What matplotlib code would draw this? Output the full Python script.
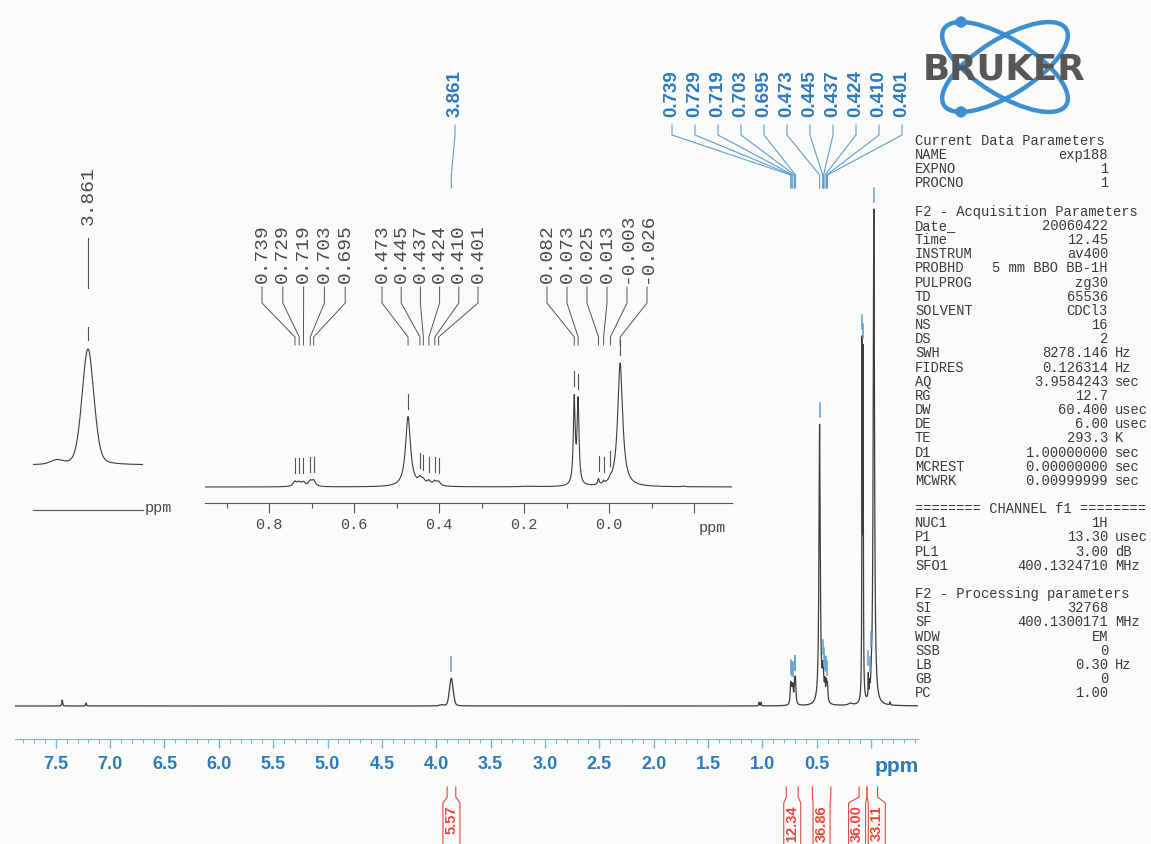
import numpy as np
import matplotlib
matplotlib.use("Agg")
import matplotlib.pyplot as plt
from matplotlib.patches import Ellipse, Circle
from matplotlib.ticker import MultipleLocator, FixedLocator

W, H = 1151, 844
plt.rcParams['font.family'] = ['Liberation Sans', 'DejaVu Sans']

# ---------------- data ----------------
peak_ppm = [7.44, 7.22, 3.95, 3.861, 1.030, 1.012,
            0.739, 0.729, 0.719, 0.703, 0.695,
            0.473, 0.445, 0.437, 0.424, 0.410, 0.401,
            0.19,
            0.082, 0.073, 0.025, 0.013, -0.003, -0.026, -0.175]
peak_height = [0.012, 0.006, 0.002, 0.056, 0.007, 0.007,
               0.040, 0.030, 0.032, 0.040, 0.045,
               0.565, 0.045, 0.035, 0.035, 0.035, 0.032,
               0.004,
               0.69, 0.67, 0.045, 0.02, 0.02, 1.0, 0.006]
peak_hwhm = [0.004, 0.004, 0.02, 0.02, 0.003, 0.003,
             0.005, 0.005, 0.005, 0.005, 0.005,
             0.007, 0.005, 0.005, 0.005, 0.005, 0.005,
             0.02,
             0.0026, 0.0026, 0.002, 0.002, 0.003, 0.007, 0.003]
peak_lorentz_fraction = [1, 1, 0.3, 0.25, 1, 1,
                         1, 1, 1, 1, 1,
                         1, 1, 1, 1, 1, 1,
                         1,
                         1, 1, 1, 1, 1, 1, 1]

top_labels = ["0.739", "0.729", "0.719", "0.703", "0.695",
              "0.473", "0.445", "0.437", "0.424", "0.410", "0.401"]
main_single_label = "3.861"
inset_group_a = ["0.739", "0.729", "0.719", "0.703", "0.695"]
inset_group_b = ["0.473", "0.445", "0.437", "0.424", "0.410", "0.401"]
inset_group_c = ["0.082", "0.073", "0.025", "0.013", "-0.003", "-0.026"]
inset1_label = "3.861"

axis_tick_labels = ["7.5", "7.0", "6.5", "6.0", "5.5", "5.0", "4.5", "4.0",
                    "3.5", "3.0", "2.5", "2.0", "1.5", "1.0", "0.5"]
inset_tick_labels = ["0.8", "0.6", "0.4", "0.2", "0.0"]

integral_values = ["5.57", "12.34", "36.86", "36.00", "33.11"]
integral_start = [3.90, 0.78, 0.54, 0.11, 0.037]
integral_end = [3.82, 0.67, 0.37, 0.037, -0.06]

params = [
    ("Current Data Parameters", "", ""),
    ("NAME", "exp188", ""),
    ("EXPNO", "1", ""),
    ("PROCNO", "1", ""),
    None,
    ("F2 - Acquisition Parameters", "", ""),
    ("Date_", "20060422", ""),
    ("Time", "12.45", ""),
    ("INSTRUM", "av400", ""),
    ("PROBHD", "5 mm BBO BB-1H", ""),
    ("PULPROG", "zg30", ""),
    ("TD", "65536", ""),
    ("SOLVENT", "CDCl3", ""),
    ("NS", "16", ""),
    ("DS", "2", ""),
    ("SWH", "8278.146", "Hz"),
    ("FIDRES", "0.126314", "Hz"),
    ("AQ", "3.9584243", "sec"),
    ("RG", "12.7", ""),
    ("DW", "60.400", "usec"),
    ("DE", "6.00", "usec"),
    ("TE", "293.3", "K"),
    ("D1", "1.00000000", "sec"),
    ("MCREST", "0.00000000", "sec"),
    ("MCWRK", "0.00999999", "sec"),
    None,
    ("======== CHANNEL f1 ========", "", ""),
    ("NUC1", "1H", ""),
    ("P1", "13.30", "usec"),
    ("PL1", "3.00", "dB"),
    ("SFO1", "400.1324710", "MHz"),
    None,
    ("F2 - Processing parameters", "", ""),
    ("SI", "32768", ""),
    ("SF", "400.1300171", "MHz"),
    ("WDW", "EM", ""),
    ("SSB", "0", ""),
    ("LB", "0.30", "Hz"),
    ("GB", "0", ""),
    ("PC", "1.00", ""),
]


def spectrum(x):
    x = np.asarray(x, dtype=float)
    y = np.zeros_like(x)
    for c, h, g, eta in zip(peak_ppm, peak_height, peak_hwhm, peak_lorentz_fraction):
        u = (x - c) / g
        y += h * (eta / (1.0 + u ** 2) + (1 - eta) * np.exp(-np.log(2) * u ** 2))
    return y


# ---------------- styles ----------------
BLUE_TXT = "#2c7bbd"
BLUE_LINE = "#5c9fd4"
AXIS_BLUE = "#7db4dc"
GREY_TXT = "#4a4a4a"
GREY_LINE = "#555555"
SPEC = "#3c3c3c"
RED = "#e2493f"
MONO = "Liberation Mono"

fig = plt.figure(figsize=(W / 100, H / 100), dpi=100)
fig.patch.set_facecolor("#fbfbf9")


def add_ax_px(left, right, bottom, top, z):
    a = fig.add_axes([left / W, 1 - bottom / H, (right - left) / W, (bottom - top) / H], zorder=z)
    a.patch.set_alpha(0)
    for s in ["top", "left", "right"]:
        a.spines[s].set_visible(False)
    a.set_yticks([])
    return a


# ---------------- main spectrum ----------------
ax = add_ax_px(15, 918, 739, 150, 1)
ax.set_xlim(7.875, -0.432)
ax.set_ylim(-33 / 496, 556 / 496)
xm = np.linspace(-0.432, 7.875, 90000)
ax.plot(xm, spectrum(xm), color=SPEC, lw=0.9)
ax.spines["bottom"].set_color(AXIS_BLUE)
ax.set_xticks([float(t) for t in axis_tick_labels] + [0.0])
ax.set_xticklabels(axis_tick_labels + [""])
ax.xaxis.set_minor_locator(MultipleLocator(0.1))
ax.tick_params(axis="x", which="major", direction="out", length=6.5, width=1,
               color=AXIS_BLUE, pad=6, labelsize=13, labelcolor=BLUE_TXT)
ax.tick_params(axis="x", which="minor", direction="out", length=3, width=0.8, color=AXIS_BLUE)
for lbl in ax.get_xticklabels():
    lbl.set_fontweight("bold")

# ---------------- inset: 0.95 .. -0.29 ppm ----------------
ax2 = add_ax_px(205, 732, 503, 330, 2)
ax2.set_xlim(0.9506, -0.289)
ax2.set_ylim(-16 / 124, 157 / 124)
x2 = np.linspace(-0.289, 0.9506, 30000)
ax2.plot(x2, spectrum(x2), color=SPEC, lw=0.8)
ax2.spines["bottom"].set_color(GREY_LINE)
ax2.spines["bottom"].set_linewidth(0.8)
ax2.xaxis.set_major_locator(FixedLocator([float(t) for t in inset_tick_labels] + [-0.2]))
ax2.set_xticklabels(inset_tick_labels + [""])
ax2.xaxis.set_minor_locator(FixedLocator([0.9, 0.7, 0.5, 0.3, 0.1, -0.1]))
ax2.tick_params(axis="x", which="major", direction="out", length=7, width=0.8,
                color=GREY_LINE, pad=4, labelsize=11, labelcolor=GREY_TXT)
ax2.tick_params(axis="x", which="minor", direction="out", length=3.5, width=0.8, color=GREY_LINE)
for lbl in ax2.get_xticklabels():
    lbl.set_family(MONO)

# ---------------- inset: 3.861 peak ----------------
unit1 = 116 / 0.056
ax1 = add_ax_px(33, 143, 510, 300, 2)
ax1.set_xlim(4.018, 3.704)
ax1.set_ylim(-45 / unit1, 165 / unit1)
x1 = np.linspace(3.704, 4.018, 4000)
ax1.plot(x1, spectrum(x1), color=SPEC, lw=0.8)
ax1.spines["bottom"].set_color(GREY_LINE)
ax1.spines["bottom"].set_linewidth(0.8)
ax1.set_xticks([])

# ---------------- overlay in pixel coordinates ----------------
ov = fig.add_axes([0, 0, 1, 1], zorder=10)
ov.set_xlim(0, W)
ov.set_ylim(H, 0)
ov.axis("off")
ov.patch.set_alpha(0)


def to_px(a, xv, yv=0.0):
    d = a.transData.transform((xv, yv))
    return d[0], H - d[1]


# peak markers on main spectrum
for s in top_labels + inset_group_c + [main_single_label]:
    p = float(s)
    px, py = to_px(ax, p, float(spectrum(p)))
    ov.plot([px, px], [py - 7, py - 21], color=BLUE_LINE, lw=1.1)

# top blue labels with connectors
for i, s in enumerate(top_labels):
    lx = 672 + 23 * i
    px = to_px(ax, float(s))[0]
    ov.plot([lx, lx, px, px], [125, 135, 175, 188], color=BLUE_LINE, lw=0.8)
    ov.text(lx, 117, s, rotation=90, ha="center", va="bottom", fontsize=13.5,
            fontweight="bold", color=BLUE_TXT)
px = to_px(ax, float(main_single_label))[0]
ov.plot([455, 455, px, px], [125, 135, 175, 188], color=BLUE_LINE, lw=0.8)
ov.text(455, 117, main_single_label, rotation=90, ha="center", va="bottom",
        fontsize=13.5, fontweight="bold", color=BLUE_TXT)

# inset 2 labels and connectors
for group, x0, step in [(inset_group_a, 262, 20.8), (inset_group_b, 382, 19.2),
                        (inset_group_c, 547, 20.0)]:
    for i, s in enumerate(group):
        lx = x0 + step * i
        p = float(s)
        px = to_px(ax2, p)[0]
        ov.plot([lx, lx, px, px], [287, 303, 337, 345], color=GREY_LINE, lw=0.7)
        ov.text(lx, 283, s, rotation=90, ha="center", va="bottom", fontsize=14,
                family=MONO, color=GREY_TXT)
        mx, my = to_px(ax2, p, float(spectrum(p)))
        ov.plot([mx, mx], [my - 8, my - 23], color=GREY_LINE, lw=0.8)
ov.text(699, 532, "ppm", ha="left", va="baseline", fontsize=11, family=MONO, color=GREY_TXT)

# inset 1 label
p = float(inset1_label)
px, py = to_px(ax1, p, float(spectrum(p)))
ov.plot([px, px], [py - 9, py - 22], color=GREY_LINE, lw=0.8)
ov.plot([px, px], [238, 288], color=GREY_LINE, lw=0.8)
ov.text(px, 225, inset1_label, rotation=90, ha="center", va="bottom", fontsize=14,
        family=MONO, color=GREY_TXT)
ov.text(145, 512, "ppm", ha="left", va="baseline", fontsize=11, family=MONO, color=GREY_TXT)

# main ppm unit label
ov.text(897, 767, "ppm", ha="center", va="center", fontsize=15, fontweight="bold", color=BLUE_TXT)

# integrals
box_shift = [0, 0, 0, -6, 4.5]
for val, a0, a1, sh in zip(integral_values, integral_start, integral_end, box_shift):
    xa = to_px(ax, a0)[0]
    xb = to_px(ax, a1)[0]
    bc = (xa + xb) / 2 + sh
    ov.plot([xa, xa, bc - 8.5, bc - 8.5], [787, 797, 803, 860], color=RED, lw=0.8)
    ov.plot([xb, xb, bc + 8.5, bc + 8.5], [787, 797, 803, 860], color=RED, lw=0.8)
    ov.text(bc, 805, val, rotation=90, ha="center", va="top", fontsize=10.5,
            fontweight="bold", color=RED)

# acquisition parameters
for i, row in enumerate(params):
    if row is None:
        continue
    y = 141 + 14.16 * i + 4
    name, val, unit = row
    ov.text(915, y, name, ha="left", va="baseline", fontsize=9.9, family=MONO, color="#3a3a3a")
    if val:
        ov.text(1108, y, val, ha="right", va="baseline", fontsize=9.9, family=MONO, color="#3a3a3a")
    if unit:
        ov.text(1115, y, unit, ha="left", va="baseline", fontsize=9.9, family=MONO, color="#3a3a3a")

# Bruker logo
cx, cy, a_s, b_s = 1005, 67, 72, 28
for ang in (32, -32):
    ov.add_patch(Ellipse((cx, cy), 2 * a_s, 2 * b_s, angle=ang, fill=False,
                         ec="#3d8fd1", lw=3.2))
th = np.deg2rad(32)
amp = np.hypot(a_s * np.sin(th), b_s * np.cos(th))
ct, st = -a_s * np.sin(th) / amp, -b_s * np.cos(th) / amp
dx = a_s * np.cos(th) * ct - b_s * np.sin(th) * st
ov.add_patch(Circle((cx + dx, cy - amp), 5, color="#3d8fd1"))
ov.add_patch(Circle((cx + dx, cy + amp), 5, color="#3d8fd1"))
ov.text(1004, 70, "BRUKER", ha="center", va="center", fontsize=25.7, fontweight="bold",
        family="DejaVu Sans", color="#575757", zorder=5)

fig.savefig("out.png", dpi=100, facecolor=fig.get_facecolor())
